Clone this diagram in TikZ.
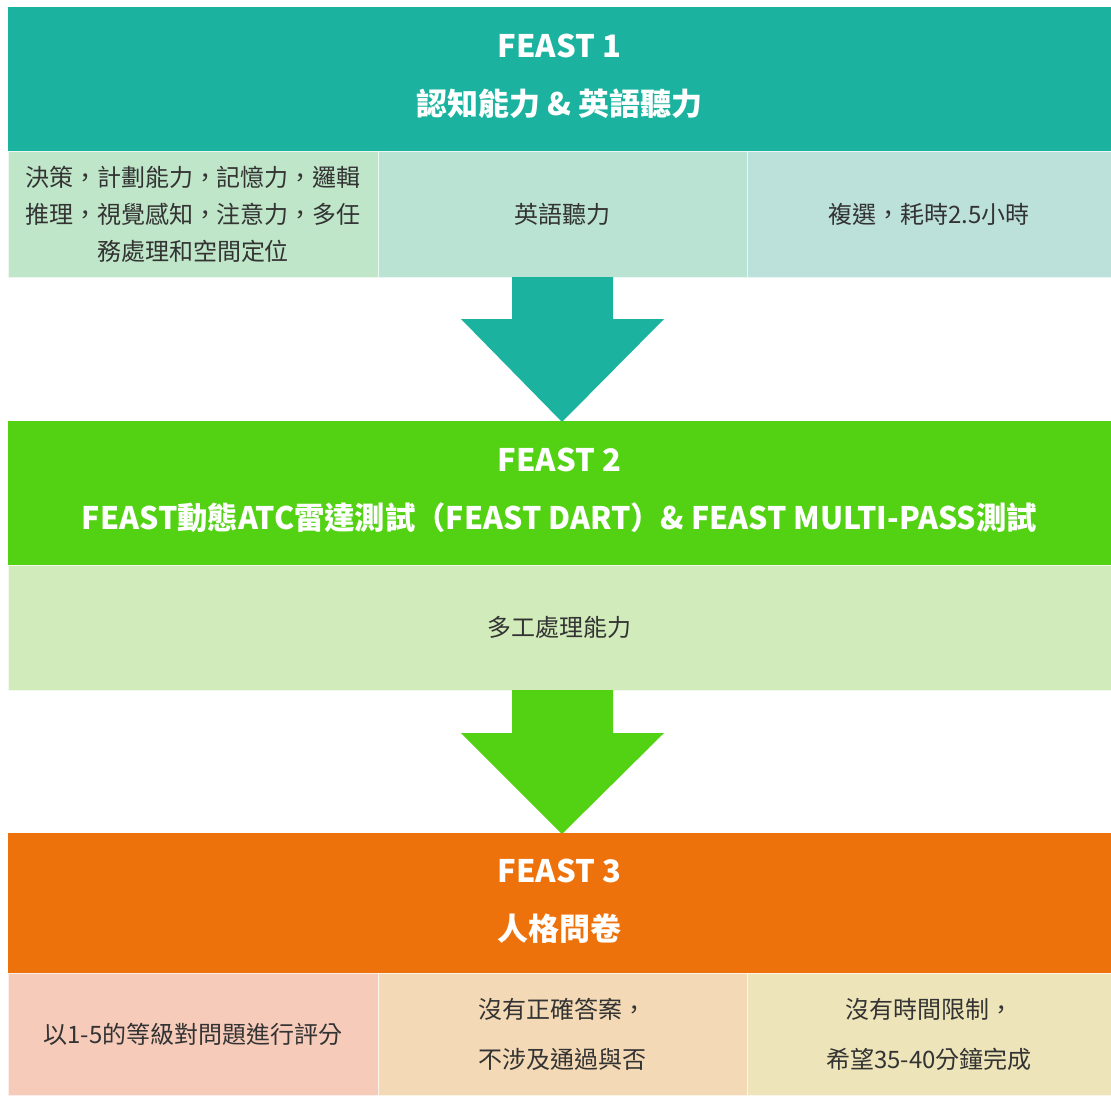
\documentclass[tikz,border=0pt]{standalone}
\usepackage{fontspec}
\setmainfont{Noto Sans CJK TC}
\usetikzlibrary{calc}
\definecolor{tealH}{HTML}{1BB39F}
\definecolor{greenH}{HTML}{52D213}
\definecolor{orangeH}{HTML}{EE720B}
\definecolor{cA}{HTML}{BFE6C8}
\definecolor{cB}{HTML}{BAE3D3}
\definecolor{cC}{HTML}{BCE0DA}
\definecolor{cD}{HTML}{D1EBBB}
\definecolor{cE}{HTML}{F6CBBA}
\definecolor{cF}{HTML}{F3D9B5}
\definecolor{cG}{HTML}{EEE4B9}
\definecolor{txt}{HTML}{333333}
\begin{document}
\begin{tikzpicture}[x=1pt,y=-1pt,
  header/.style={anchor=north west,inner sep=0,outer sep=0,minimum width=1103,fill=#1},
  htext/.style={inner sep=0,text=white,align=center,font=\fontsize{31}{58}\selectfont\bfseries},
  cell/.style={anchor=north west,inner sep=0,outer sep=0,draw=white!70!#1,line width=0.8,fill=#1,text=txt,align=center,
    font=\fontsize{24}{37}\selectfont}]
\useasboundingbox[fill=white] (0,0) rectangle (1111,1095);

% FEAST 1
\node[header=tealH,minimum height=144] (h1) at (8,7) {};
\node[htext] (t1) at ($(h1.center)+(0,-3)$) {FEAST 1\\認知能力 \& 英語聽力};
\node[cell=cA,minimum width=370,minimum height=126] (c11) at (8,151) {決策，計劃能力，記憶力，邏輯\\推理，視覺感知，注意力，多任\\務處理和空間定位};
\node[cell=cB,minimum width=369,minimum height=126] (c12) at (378,151) {英語聽力};
\node[cell=cC,minimum width=364,minimum height=126] (c13) at (747,151) {複選，耗時2.5小時};

% arrow 1
\fill[tealH] (512,277) -- (613,277) -- (613,319) -- (664,319) -- (562,422) -- (461,319) -- (512,319) -- cycle;

% FEAST 2
\node[header=greenH,minimum height=144] (h2) at (8,421) {};
\node[htext] (t2) at ($(h2.center)+(0,-3)$) {FEAST 2\\\resizebox{955pt}{\height}{FEAST動態ATC雷達測試（FEAST DART）\& FEAST MULTI-PASS測試}};
\node[cell=cD,minimum width=1103,minimum height=125] (c21) at (8,565) {多工處理能力};

% arrow 2
\fill[greenH] (512,690) -- (613,690) -- (613,733) -- (664,733) -- (562,834) -- (461,733) -- (512,733) -- cycle;

% FEAST 3
\node[header=orangeH,minimum height=140] (h3) at (8,833) {};
\node[htext] (t3) at ($(h3.center)+(0,-2)$) {FEAST 3\\人格問卷};
\node[cell=cE,minimum width=370,minimum height=122] (c31) at (8,973) {以1-5的等級對問題進行評分};
\node[cell=cF,minimum width=369,minimum height=122,font=\fontsize{24}{50}\selectfont] (c32) at (378,973) {沒有正確答案，\\不涉及通過與否};
\node[cell=cG,minimum width=364,minimum height=122,font=\fontsize{24}{50}\selectfont] (c33) at (747,973) {沒有時間限制，\\希望35-40分鐘完成};
\end{tikzpicture}
\end{document}
